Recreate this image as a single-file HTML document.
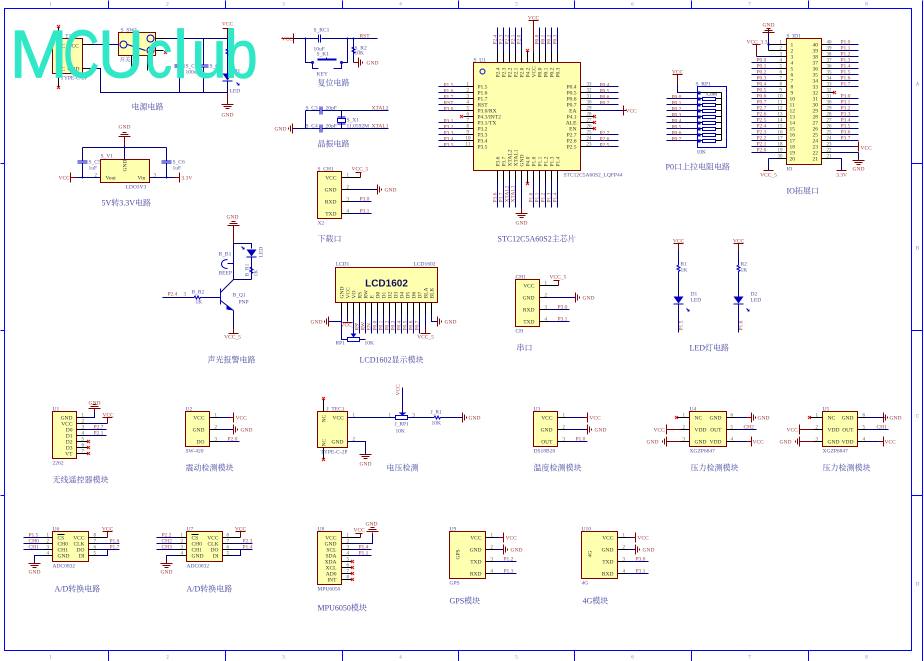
<!DOCTYPE html>
<html><head><meta charset="utf-8"><title>Schematic</title>
<style>
html,body{margin:0;padding:0;background:#fff;width:924px;height:661px;overflow:hidden}
svg{display:block}
text{font-family:"Liberation Serif","Noto Serif CJK SC",serif;font-size:5.5px}
.f{fill:none;stroke:#0000ff;stroke-width:1}
.w{fill:none;stroke:#000080;stroke-width:1}
.p{fill:none;stroke:#000;stroke-width:1}
.d{fill:none;stroke:#800000;stroke-width:1}
.x{fill:none;stroke:#e01010;stroke-width:1}
.bd{fill:#ffffb0;stroke:#800000;stroke-width:1}
.bl{fill:none;stroke:#0000c0;stroke-width:1}
.fb{fill:#0000c0;stroke:none}
.r text,text.r{fill:#a04040}
.b text,text.b{fill:#5050a0}
.k text,text.k{fill:#333}
.n text{fill:#555;font-size:5px}
.t text{fill:#4c4ca4;font-size:8px}
.z text{fill:#7a7ae0;font-size:5px}
.e{text-anchor:end}
.m{text-anchor:middle}
.wm text{font-family:"Liberation Sans",sans-serif;font-size:68px;fill:#30e8c8;stroke:#30e8c8;stroke-width:.8;stroke-linejoin:round}
</style></head><body>
<svg width="924" height="661" viewBox="0 0 924 661" xmlns="http://www.w3.org/2000/svg">
<defs>
<g id="gr" class="d"><path d="M0-5V5M2-3V3M4-1V1" fill="none" stroke="#800000"/></g>
<g id="gl"><path d="M0-5V5M-2-3V3M-4-1V1" fill="none" stroke="#800000"/></g>
<g id="gd"><path d="M-6 0H6M-4 2H4M-2 4H2" fill="none" stroke="#800000"/></g>
<g id="gu"><path d="M-6 0H6M-4-2H4M-2-4H2" fill="none" stroke="#800000"/></g>
<path id="xm" d="M-1.5-1.5L1.5 1.5M-1.5 1.5L1.5-1.5" fill="none" stroke="#e01010"/>
<path id="rh" d="M-5 0H-3.5L-2.5-1.5L-1 1.5L.5-1.5L2 1.5L3 0H5" fill="none" stroke="#0000c0"/>
<path id="rv" d="M0-5V-3.5L-1.5-2.5L1.5-1L-1.5.5L1.5 2L0 3V5" fill="none" stroke="#0000c0"/>
<g id="cv"><path d="M-1 -4V4M1 -4V4" fill="none" stroke="#0000c0"/></g>
<g id="ch"><path d="M-5-1H5M-5 1H5" fill="none" stroke="#0000c0"/></g>
<g id="led"><path d="M-5 -4H5L0 3Z" fill="#0000c0"/><path d="M-5 3.5H5" stroke="#0000c0"/></g>
<path id="ar" d="M0 0L2.5 2.5M1 2.5H2.5V1" fill="none" stroke="#0000c0"/>
</defs>

<g transform="translate(.5 .5)">
<!-- frame -->
<g class="f"><path d="M4 8H911V650H4ZM922 0V661"/><path d="M108 0V8M225 0V8M342 0V8M458 0V8M574 0V8M691 0V8M808 0V8M108 650V661M225 650V661M342 650V661M458 650V661M574 650V661M691 650V661M808 650V661M0 163H4M0 330H4M0 495H4M911 163H922M911 330H922M911 495H922"/></g>
<g class="z">
<text x="50" y="5" class="m">1</text><text x="167" y="5" class="m">2</text><text x="283" y="5" class="m">3</text><text x="400" y="5" class="m">4</text><text x="516" y="5" class="m">5</text><text x="632" y="5" class="m">6</text><text x="749" y="5" class="m">7</text><text x="866" y="5" class="m">8</text>
<text x="50" y="658" class="m">1</text><text x="167" y="658" class="m">2</text><text x="283" y="658" class="m">3</text><text x="400" y="658" class="m">4</text><text x="516" y="658" class="m">5</text><text x="632" y="658" class="m">6</text><text x="749" y="658" class="m">7</text><text x="866" y="658" class="m">8</text>
<text x="917" y="85" class="m">A</text><text x="917" y="249" class="m">B</text><text x="917" y="417" class="m">C</text><text x="917" y="585" class="m">D</text>
</g>

<!-- power -->
<rect class="bd" x="52" y="38" width="30" height="35"/><rect class="bd" x="118" y="32" width="37" height="23"/>
<path class="p" d="M58 38V27M58 73V87M82 44H92M82 68H92"/>
<use href="#xm" x="58" y="26"/><use href="#xm" x="58" y="87"/>
<path class="w" d="M92 44H118M92 68H100V92H227M155 38H227M179 38V64M179 67V92M203 38V64M203 67V92M227 38V75M227 81V92"/>
<path class="d" d="M227 28V38M227 92V104M222 28H232"/>
<use href="#ch" x="179" y="65.5"/><use href="#ch" x="203" y="65.5"/><use href="#rv" x="227" y="52"/><use href="#led" x="227" y="77"/><use href="#ar" x="236" y="82"/>
<use href="#gd" x="227" y="104"/>
<g class="bl"><circle cx="123" cy="44" r="3.5"/><circle cx="150" cy="38" r="3.5"/><circle cx="150" cy="50" r="3.5"/><path d="M127 44L145 50"/></g>
<path class="p" d="M155 38H165M155 50H163M131 55V70M147 55V70"/>
<use href="#xm" x="165" y="52"/>
<g class="b"><text x="59" y="37">S_T1</text><text x="120" y="31">S_SW1</text><text x="60" y="79">TYPE-C-2P</text><text x="119" y="61">开关</text><text x="185" y="67">S_C1</text><text x="185" y="73">100uF</text><text x="209" y="67">S_C2</text><text x="233" y="72">D1</text><text x="229" y="92">LED</text></g>
<g class="k"><text x="57" y="47">NC</text><text x="67" y="47">VCC</text><text x="57" y="70">NC</text><text x="67" y="70">GND</text></g>
<g class="r"><text x="227" y="25" class="m">VCC</text><text x="227" y="116" class="m">GND</text></g>

<!-- ldo -->
<rect class="bd" x="100" y="159" width="49" height="23"/>
<path class="w" d="M75 177H100M149 177H179M82 147H166M82 147V160M82 163V177M166 147V160M166 163V177M124 147V159"/>
<path class="d" d="M124 136V147M70 177H76M179 172V182M179 177H174M70 172V182"/>
<use href="#gu" x="124" y="136"/><use href="#ch" x="82" y="161.5"/><use href="#ch" x="166" y="161.5"/>
<g class="fb"><circle cx="82" cy="177" r="1"/><circle cx="166" cy="177" r="1"/><circle cx="124" cy="147" r="1"/></g>
<g class="k"><text x="105" y="179">Vout</text><text x="137" y="179">Vin</text><text transform="translate(126 171) rotate(-90)" class="k">GND</text></g>
<g class="b"><text x="100" y="157">S_V1</text><text x="125" y="188">LDO3V3</text><text x="88" y="163">S_C5</text><text x="88" y="169">1uF</text><text x="172" y="163">S_C6</text><text x="172" y="169">1uF</text></g>
<g class="r"><text x="58" y="179">VCC</text><text x="181" y="179">3.3V</text><text x="124" y="128" class="m">GND</text></g>
<g class="n"><text x="94" y="176">2</text><text x="153" y="176">3</text></g>

<!-- reset -->
<path class="w" d="M293 38H318M321 38H377M305 38V62H312M347 38V62H341M353 38V62"/>
<path class="d" d="M293 33V43M281 38H293M353 62H358"/>
<use href="#gr" x="358" y="62"/><use href="#cv" x="319" y="38"/><use href="#rv" x="353" y="50"/>
<g class="bl"><path d="M317 59H336" stroke-width="2"/><path d="M326 59V57M312 62V68H318M341 62V68H333"/><circle cx="312" cy="62" r="1"/><circle cx="341" cy="62" r="1"/></g>
<g class="fb"><circle cx="305" cy="38" r="1"/><circle cx="347" cy="38" r="1"/><circle cx="353" cy="38" r="1"/></g>
<g class="b"><text x="313" y="31">S_RC1</text><text x="313" y="50">10uF</text><text x="316" y="55">S_K1</text><text x="316" y="75">KEY</text><text x="354" y="49">S_R2</text><text x="354" y="54">10K</text></g>
<g class="r"><text x="281" y="40">VCC</text><text x="359" y="37">RST</text><text x="366" y="64">GND</text></g>

<!-- crystal -->
<path class="w" d="M305 110H319M322 110H388M292 128H319M322 128H388M305 110V128M341 110V118M341 122V128"/>
<use href="#gl" x="292" y="128"/><use href="#cv" x="320.5" y="110"/><use href="#cv" x="320.5" y="128"/>
<rect class="bl" x="337" y="118" width="8" height="4"/><path class="bl" d="M337 116.5H345M337 123.5H345"/>
<g class="b"><text x="305" y="109">S_C3</text><text x="325" y="109">20pF</text><text x="305" y="127">S_C4</text><text x="325" y="127">20pF</text><text x="346" y="121">S_X1</text><text x="346" y="127">11.0592M</text></g>
<g class="r"><text x="274" y="130">GND</text><text x="371" y="109">XTAL2</text><text x="371" y="127">XTAL1</text></g>

<!-- X2 download -->
<rect class="bd" x="317" y="171" width="24" height="47"/>
<path class="w" d="M350 189H377M350 201H371M350 213H371"/>
<path class="p" d="M341 177H360M341 189H350M341 201H350M341 213H350"/>
<path class="d" d="M355 172H361M360 172V177"/>
<use href="#gr" x="377" y="189"/>
<g class="k"><text x="336" y="179" class="e">VCC</text><text x="336" y="191" class="e">GND</text><text x="336" y="203" class="e">RXD</text><text x="336" y="215" class="e">TXD</text></g>
<g class="n"><text x="346" y="176">1</text><text x="346" y="188">2</text><text x="346" y="200">3</text><text x="346" y="212">4</text></g>
<g class="b"><text x="317" y="170">S_CH1</text><text x="317" y="224">X2</text></g>
<g class="r"><text x="351" y="170">VCC_5</text><text x="384" y="191">GND</text><text x="359" y="200">P3.0</text><text x="359" y="212">P3.1</text></g>

<!-- MCU -->
<rect class="bd" x="473" y="62" width="107" height="108"/>
<circle cx="482" cy="71" r="2.5" fill="none" stroke="#0000e0"/>
<path class="w" d="M438 86H463M438 92H463M438 98H463M438 104H463M438 110H463M438 122H463M438 128H463M438 134H463M438 140H463M438 146H463M590 86H618M590 92H618M590 98H618M590 104H618M590 110H623M590 134H618M590 140H618M590 146H618M497 27V52M503 27V52M509 27V52M515 27V52M521 27V52M539 27V52M545 27V52M551 27V52M557 27V52M497 180V207M503 180V207M509 180V207M515 180V207M533 180V207M539 180V207M545 180V207M551 180V207M557 180V207M521 180V207"/>
<path class="p" d="M463 86H473M463 92H473M463 98H473M463 104H473M463 110H473M463 116H473M463 122H473M463 128H473M463 134H473M463 140H473M463 146H473M580 86H590M580 92H590M580 98H590M580 104H590M580 110H590M580 116H593M580 122H593M580 128H593M580 134H590M580 140H590M580 146H590M497 52V62M503 52V62M509 52V62M515 52V62M521 52V62M527 50V62M533 52V62M539 52V62M545 52V62M551 52V62M557 52V62M497 170V180M503 170V180M509 170V180M515 170V180M521 170V180M527 170V183M533 170V180M539 170V180M545 170V180M551 170V180M557 170V180"/>
<path class="d" d="M533 20V52M528 20H538M623 105V115M623 110H626M521 207V213"/>
<use href="#gd" x="521" y="213"/>
<use href="#xm" x="461" y="116"/><use href="#xm" x="594" y="116"/><use href="#xm" x="594" y="122"/><use href="#xm" x="594" y="128"/><use href="#xm" x="527" y="50"/><use href="#xm" x="527" y="183"/>
<g class="k"><text x="477" y="88">P1.5</text><text x="477" y="94">P1.6</text><text x="477" y="100">P1.7</text><text x="477" y="106">RST</text><text x="477" y="112">P3.0/RX</text><text x="477" y="118">P4.3/INT2</text><text x="477" y="124">P3.1/TX</text><text x="477" y="130">P3.2</text><text x="477" y="136">P3.3</text><text x="477" y="142">P3.4</text><text x="477" y="148">P3.5</text>
<text x="576" y="88" class="e">P0.4</text><text x="576" y="94" class="e">P0.5</text><text x="576" y="100" class="e">P0.6</text><text x="576" y="106" class="e">P0.7</text><text x="576" y="112" class="e">EA</text><text x="576" y="118" class="e">P4.1</text><text x="576" y="124" class="e">ALE</text><text x="576" y="130" class="e">EN</text><text x="576" y="136" class="e">P2.7</text><text x="576" y="142" class="e">P2.6</text><text x="576" y="148" class="e">P2.5</text>
<text transform="translate(499 77) rotate(-90)">P2.4</text><text transform="translate(505 77) rotate(-90)">P2.3</text><text transform="translate(511 77) rotate(-90)">P2.2</text><text transform="translate(517 77) rotate(-90)">P2.1</text><text transform="translate(523 77) rotate(-90)">P2.0</text><text transform="translate(529 77) rotate(-90)">P4.2</text><text transform="translate(535 77) rotate(-90)">VCC</text><text transform="translate(541 77) rotate(-90)">P0.0</text><text transform="translate(547 77) rotate(-90)">P0.1</text><text transform="translate(553 77) rotate(-90)">P0.2</text><text transform="translate(559 77) rotate(-90)">P0.3</text>
<text transform="translate(499 166) rotate(-90)">P3.6</text><text transform="translate(505 166) rotate(-90)">P3.7</text><text transform="translate(511 166) rotate(-90)">XTAL2</text><text transform="translate(517 166) rotate(-90)">XTAL1</text><text transform="translate(523 166) rotate(-90)">GND</text><text transform="translate(529 166) rotate(-90)">P4.0</text><text transform="translate(535 166) rotate(-90)">P1.0</text><text transform="translate(541 166) rotate(-90)">P1.1</text><text transform="translate(547 166) rotate(-90)">P1.2</text><text transform="translate(553 166) rotate(-90)">P1.3</text><text transform="translate(559 166) rotate(-90)">P1.4</text></g>
<g class="r"><text x="443" y="86">P1.5</text><text x="443" y="92">P1.6</text><text x="443" y="98">P1.7</text><text x="443" y="104">RST</text><text x="443" y="110">P3.0</text><text x="443" y="122">P3.1</text><text x="443" y="128">P3.2</text><text x="443" y="134">P3.3</text><text x="443" y="140">P3.4</text><text x="443" y="146">P3.5</text>
<text x="599" y="86">P0.4</text><text x="599" y="92">P0.5</text><text x="599" y="98">P0.6</text><text x="599" y="104">P0.7</text><text x="599" y="134">P2.7</text><text x="599" y="140">P2.6</text><text x="599" y="146">P2.5</text><text x="625" y="112">VCC</text><text x="533" y="19" class="m">VCC</text><text x="521" y="224" class="m">GND</text>
<text transform="translate(496 44) rotate(-90)">P2.4</text><text transform="translate(502 44) rotate(-90)">P2.3</text><text transform="translate(508 44) rotate(-90)">P2.2</text><text transform="translate(514 44) rotate(-90)">P2.1</text><text transform="translate(520 44) rotate(-90)">P2.0</text><text transform="translate(538 44) rotate(-90)">P0.0</text><text transform="translate(544 44) rotate(-90)">P0.1</text><text transform="translate(550 44) rotate(-90)">P0.2</text><text transform="translate(556 44) rotate(-90)">P0.3</text>
<text transform="translate(496 202) rotate(-90)">P3.6</text><text transform="translate(502 202) rotate(-90)">P3.7</text><text transform="translate(508 202) rotate(-90)">XTAL2</text><text transform="translate(514 202) rotate(-90)">XTAL1</text><text transform="translate(532 202) rotate(-90)">P1.0</text><text transform="translate(538 202) rotate(-90)">P1.1</text><text transform="translate(544 202) rotate(-90)">P1.2</text><text transform="translate(550 202) rotate(-90)">P1.3</text><text transform="translate(556 202) rotate(-90)">P1.4</text></g>
<g class="n"><text x="466" y="85">1</text><text x="466" y="91">2</text><text x="466" y="97">3</text><text x="466" y="103">4</text><text x="466" y="109">5</text><text x="466" y="115">6</text><text x="466" y="121">7</text><text x="466" y="127">8</text><text x="466" y="133">9</text><text x="465" y="139">10</text><text x="465" y="145">11</text>
<text x="586" y="85">33</text><text x="586" y="91">32</text><text x="586" y="97">31</text><text x="586" y="103">30</text><text x="586" y="109">29</text><text x="586" y="115">28</text><text x="586" y="121">27</text><text x="586" y="127">26</text><text x="586" y="133">25</text><text x="586" y="139">24</text><text x="586" y="145">23</text></g>
<g class="b"><text x="473" y="61">S_U1</text><text x="563" y="176">STC12C5A60S2_LQFP44</text></g>

<!-- P0 pull-up -->
<rect x="697" y="86" width="29" height="61" class="bl" stroke="#0000e0"/>
<path class="d" d="M672 74H682M677 74V83"/>
<path class="w" d="M677 83V92H697M666 98H697M666 104H697M666 110H697M666 116H697M666 122H697M666 128H697M666 134H697M666 140H697"/>
<path class="p" d="M697 92H721M715 98H721M715 104H721M715 110H721M715 116H721M715 122H721M715 128H721M715 134H721M715 140H721M721 92V140M697 98H702M697 104H702M697 110H702M697 116H702M697 122H702M697 128H702M697 134H702M697 140H702"/>
<g class="bl"><rect x="702" y="97" width="13" height="3"/><rect x="702" y="103" width="13" height="3"/><rect x="702" y="109" width="13" height="3"/><rect x="702" y="115" width="13" height="3"/><rect x="702" y="121" width="13" height="3"/><rect x="702" y="127" width="13" height="3"/><rect x="702" y="133" width="13" height="3"/><rect x="702" y="139" width="13" height="3"/></g>
<g class="fb"><rect x="697" y="91" width="3" height="3"/><rect x="697" y="97" width="3" height="3"/><rect x="697" y="103" width="3" height="3"/><rect x="697" y="109" width="3" height="3"/><rect x="697" y="115" width="3" height="3"/><rect x="697" y="121" width="3" height="3"/><rect x="697" y="127" width="3" height="3"/><rect x="697" y="133" width="3" height="3"/><rect x="697" y="139" width="3" height="3"/></g>
<g class="r"><text x="677" y="73" class="m">VCC</text><text x="671" y="98">P0.0</text><text x="671" y="104">P0.1</text><text x="671" y="110">P0.2</text><text x="671" y="116">P0.3</text><text x="671" y="122">P0.4</text><text x="671" y="128">P0.5</text><text x="671" y="134">P0.6</text><text x="671" y="140">P0.7</text></g>
<g class="b"><text x="695" y="85">S_RP1</text><text x="696" y="153">10K</text></g><text x="706" y="95" class="k">Com</text>

<!-- IO -->
<rect class="bd" x="786" y="38" width="35" height="126"/>
<path class="w" d="M756 56H775M751 62H775M751 68H775M751 74H775M751 80H775M751 86H775M751 92H775M751 98H775M751 104H775M751 110H775M751 116H775M751 122H775M751 128H775M751 134H775M751 140H775M751 146H775M751 152H775M768 32V50M768 158V170M768 158H775M831 44H858M831 50H858M831 56H858M831 62H858M831 68H858M831 74H858M831 80H858M831 86H858M831 98H858M831 104H858M831 110H858M831 116H858M831 122H858M831 128H858M831 134H858M831 140H858M831 146H853M831 152H858M858 152V158M831 158H841V170"/>
<path class="p" d="M768 44H786M768 50H786M775 56H786M775 62H786M775 68H786M775 74H786M775 80H786M775 86H786M775 92H786M775 98H786M775 104H786M775 110H786M775 116H786M775 122H786M775 128H786M775 134H786M775 140H786M775 146H786M775 152H786M775 158H786M821 44H831M821 50H831M821 56H831M821 62H831M821 68H831M821 74H831M821 80H831M821 86H831M821 92H833M821 98H831M821 104H831M821 110H831M821 116H831M821 122H831M821 128H831M821 134H831M821 140H831M821 146H831M821 152H831M821 158H831"/>
<path class="d" d="M756 44V56M752 44H760M768 32V28M853 146H858M858 141V151M858 158V160M763 170H773M836 170H846"/>
<use href="#gu" x="768" y="32"/><use href="#gd" x="858" y="160"/><use href="#xm" x="834" y="92"/>
<g class="fb"><circle cx="768" cy="44" r="1.2"/></g>
<g class="k"><text x="790" y="46">1</text><text x="790" y="52">2</text><text x="790" y="58">3</text><text x="790" y="64">4</text><text x="790" y="70">5</text><text x="790" y="76">6</text><text x="790" y="82">7</text><text x="790" y="88">8</text><text x="790" y="94">9</text><text x="789" y="100">10</text><text x="789" y="106">11</text><text x="789" y="112">12</text><text x="789" y="118">13</text><text x="789" y="124">14</text><text x="789" y="130">15</text><text x="789" y="136">16</text><text x="789" y="142">17</text><text x="789" y="148">18</text><text x="789" y="154">19</text><text x="789" y="160">20</text>
<text x="812" y="46">40</text><text x="812" y="52">39</text><text x="812" y="58">38</text><text x="812" y="64">37</text><text x="812" y="70">36</text><text x="812" y="76">35</text><text x="812" y="82">34</text><text x="812" y="88">33</text><text x="812" y="94">32</text><text x="812" y="100">31</text><text x="812" y="106">30</text><text x="812" y="112">29</text><text x="812" y="118">28</text><text x="812" y="124">27</text><text x="812" y="130">26</text><text x="812" y="136">25</text><text x="812" y="142">24</text><text x="812" y="148">23</text><text x="812" y="154">22</text><text x="812" y="160">21</text></g>
<g class="n"><text x="779" y="43">1</text><text x="779" y="49">2</text><text x="779" y="55">3</text><text x="779" y="61">4</text><text x="779" y="67">5</text><text x="779" y="73">6</text><text x="779" y="79">7</text><text x="779" y="85">8</text><text x="779" y="91">9</text><text x="777" y="97">10</text><text x="777" y="103">11</text><text x="777" y="109">12</text><text x="777" y="115">13</text><text x="777" y="121">14</text><text x="777" y="127">15</text><text x="777" y="133">16</text><text x="777" y="139">17</text><text x="777" y="145">18</text><text x="777" y="151">19</text><text x="777" y="157">30</text>
<text x="826" y="43">40</text><text x="826" y="49">39</text><text x="826" y="55">38</text><text x="826" y="61">37</text><text x="826" y="67">36</text><text x="826" y="73">35</text><text x="826" y="79">34</text><text x="826" y="85">33</text><text x="826" y="91">32</text><text x="826" y="97">31</text><text x="826" y="103">30</text><text x="826" y="109">29</text><text x="826" y="115">28</text><text x="826" y="121">27</text><text x="826" y="127">26</text><text x="826" y="133">25</text><text x="826" y="139">24</text><text x="826" y="145">23</text><text x="826" y="151">22</text><text x="826" y="157">21</text></g>
<g class="r"><text x="746" y="43">VCC_3.3</text><text x="768" y="26" class="m">GND</text><text x="768" y="176" class="m">VCC_5</text><text x="841" y="176" class="m">3.3V</text><text x="858" y="170" class="m">GND</text><text x="860" y="149">VCC</text>
<text x="756" y="61">P0.0</text><text x="756" y="67">P0.1</text><text x="756" y="73">P0.2</text><text x="756" y="79">P0.3</text><text x="756" y="85">P0.4</text><text x="756" y="91">P0.5</text><text x="756" y="97">P0.6</text><text x="756" y="103">P0.7</text><text x="756" y="109">P2.7</text><text x="756" y="115">P2.6</text><text x="756" y="121">P2.5</text><text x="756" y="127">P2.4</text><text x="756" y="133">P2.3</text><text x="756" y="139">P2.2</text><text x="756" y="145">P2.1</text><text x="756" y="151">P2.0</text>
<text x="840" y="43">P1.0</text><text x="840" y="49">P1.1</text><text x="840" y="55">P1.2</text><text x="840" y="61">P1.3</text><text x="840" y="67">P1.4</text><text x="840" y="73">P1.5</text><text x="840" y="79">P1.6</text><text x="840" y="85">P1.7</text><text x="840" y="97">P3.0</text><text x="840" y="103">P3.1</text><text x="840" y="109">P3.2</text><text x="840" y="115">P3.3</text><text x="840" y="121">P3.4</text><text x="840" y="127">P3.5</text><text x="840" y="133">P3.6</text><text x="840" y="139">P3.7</text></g>
<g class="b"><text x="786" y="37">S_ID1</text><text x="786" y="170">IO</text></g>

<!-- buzzer -->
<path class="w" d="M233 243V279M233 243H251V248M251 257V279M233 279H251M233 279L220 292M220 300L233 310M162 297H192M202 297H220M227 263H233M233 310V327"/>
<path class="bl" d="M220 288V304" stroke-width="2"/><path class="bl" d="M220 288V304"/><use href="#rh" x="197" y="297"/>
<path d="M226 304L233 310L226 309Z" fill="#0000c0"/><use href="#led" x="251" y="253"/><use href="#rv" x="251" y="270"/><use href="#ar" x="241" y="246"/>
<path class="bl" d="M227 259C219 259 219 268 227 268"/>
<path class="d" d="M233 225V243M233 327V333M228 333H238"/><use href="#gu" x="233" y="225"/>
<g class="b"><text x="218" y="255">B_B1</text><text x="218" y="274">BEEP</text><text x="191" y="293">B_R2</text><text x="195" y="303">1K</text><text x="232" y="296">B_Q1</text><text x="238" y="303">PNP</text><text transform="translate(262 257) rotate(-90)">LED</text><text transform="translate(248 276) rotate(-90)">B_R1</text><text transform="translate(257 276) rotate(-90)">1K</text></g>
<g class="r"><text x="232" y="218" class="m">GND</text><text x="232" y="338" class="m">VCC_5</text><text x="167" y="295">P2.4</text></g><g class="n"><text x="183" y="295">3</text></g>

<!-- LCD -->
<rect class="bd" x="335" y="267" width="102" height="35"/>
<text x="386" y="286" class="m" style="font:bold 10px 'Liberation Sans',sans-serif;fill:#101060">LCD1602</text>
<path class="p" d="M341 302V314M347 302V314M353 302V314M359 302V314M365 302V314M371 302V314M377 302V314M383 302V314M389 302V314M395 302V314M401 302V314M407 302V314M413 302V314M419 302V314M425 302V314M431 302V314"/>
<path class="w" d="M341 314V339H347M347 314V321M353 314V335M359 314V333M365 314V333M371 314V333M377 314V333M383 314V333M389 314V333M395 314V333M401 314V333M407 314V333M413 314V333M419 314V333M425 314V328M431 314V321H437M328 321H341M359 339H365"/>
<path class="d" d="M342 322H352M420 333H430M425 328V333"/>
<use href="#gl" x="328" y="321"/><use href="#gr" x="437" y="321"/>
<rect x="347" y="337" width="12" height="4" class="bl"/><path d="M350 333H356L353 337Z" fill="#0000c0"/>
<g class="k" style="font-size:5px"><text transform="translate(343 298) rotate(-90)">GND</text><text transform="translate(349 298) rotate(-90)">VCC</text><text transform="translate(355 298) rotate(-90)">VO</text><text transform="translate(361 298) rotate(-90)">RS</text><text transform="translate(367 298) rotate(-90)">RW</text><text transform="translate(373 298) rotate(-90)">E</text><text transform="translate(379 298) rotate(-90)">D0</text><text transform="translate(385 298) rotate(-90)">D1</text><text transform="translate(391 298) rotate(-90)">D2</text><text transform="translate(397 298) rotate(-90)">D3</text><text transform="translate(403 298) rotate(-90)">D4</text><text transform="translate(409 298) rotate(-90)">D5</text><text transform="translate(415 298) rotate(-90)">D6</text><text transform="translate(421 298) rotate(-90)">D7</text><text transform="translate(427 298) rotate(-90)">BLA</text><text transform="translate(433 298) rotate(-90)">BLK</text></g>
<g class="r"><text x="310" y="323">GND</text><text x="450" y="323" class="m">GND</text><text x="340" y="326">VCC_5</text><text x="425" y="338" class="m">VCC_5</text><text transform="translate(358 330) rotate(-90)">RS</text><text transform="translate(364 330) rotate(-90)">RW</text><text transform="translate(370 330) rotate(-90)">EN</text><text transform="translate(376 330) rotate(-90)">P0.0</text><text transform="translate(382 330) rotate(-90)">P0.1</text><text transform="translate(388 330) rotate(-90)">P0.2</text><text transform="translate(394 330) rotate(-90)">P0.3</text><text transform="translate(400 330) rotate(-90)">P0.4</text><text transform="translate(406 330) rotate(-90)">P0.5</text><text transform="translate(412 330) rotate(-90)">P0.6</text><text transform="translate(418 330) rotate(-90)">P0.7</text></g>
<g class="b"><text x="335" y="265">LCD1</text><text x="413" y="265">LCD1602</text><text x="335" y="344">RP1</text><text x="364" y="344">10K</text></g>

<!-- serial -->
<rect class="bd" x="515" y="279" width="24" height="47"/>
<path class="w" d="M548 297H575M548 309H569M548 321H569"/>
<path class="p" d="M539 285H558M539 297H548M539 309H548M539 321H548"/>
<path class="d" d="M553 280H559M558 280V285"/>
<use href="#gr" x="575" y="297"/>
<g class="k"><text x="534" y="287" class="e">VCC</text><text x="534" y="299" class="e">GND</text><text x="534" y="311" class="e">RXD</text><text x="534" y="323" class="e">TXD</text></g>
<g class="n"><text x="544" y="284">1</text><text x="544" y="296">2</text><text x="544" y="308">3</text><text x="544" y="320">4</text></g>
<g class="b"><text x="515" y="278">CH1</text><text x="515" y="332">CH</text></g>
<g class="r"><text x="549" y="278">VCC_5</text><text x="582" y="299">GND</text><text x="557" y="308">P3.0</text><text x="557" y="320">P3.1</text></g>

<!-- LEDs -->
<path class="w" d="M678 250V263M678 273V296M678 303V332M738 250V263M738 273V296M738 303V332"/>
<path class="d" d="M673 243H683M678 243V250M733 243H743M738 243V250"/>
<use href="#rv" x="678" y="268"/><use href="#rv" x="738" y="268"/><use href="#led" x="678" y="300"/><use href="#led" x="738" y="300"/><use href="#ar" x="686" y="308"/><use href="#ar" x="746" y="308"/>
<g class="r"><text x="678" y="242" class="m">VCC</text><text x="738" y="242" class="m">VCC</text><text transform="translate(682 330) rotate(-90)">P1.5</text><text transform="translate(742 330) rotate(-90)">P1.6</text></g>
<g class="b"><text x="680" y="265">R1</text><text x="680" y="271">1K</text><text x="690" y="295">D1</text><text x="690" y="301">LED</text><text x="740" y="265">R2</text><text x="740" y="271">1K</text><text x="750" y="295">D2</text><text x="750" y="301">LED</text></g>

<!-- U1 wireless -->
<rect class="bd" x="52" y="411" width="24" height="47"/>
<path class="w" d="M84 417H94V411M84 423H107M84 429H106M84 435H106"/>
<path class="p" d="M76 417H84M76 423H84M76 429H84M76 435H84M76 441H87M76 447H87M76 453H87"/>
<path class="d" d="M94 411V408M102 417H112M107 417V423"/><use href="#gu" x="94" y="408"/>
<use href="#xm" x="88" y="441"/><use href="#xm" x="88" y="447"/><use href="#xm" x="88" y="453"/>
<g class="k"><text x="72" y="419" class="e">GND</text><text x="72" y="425" class="e">VCC</text><text x="72" y="431" class="e">D0</text><text x="72" y="437" class="e">D1</text><text x="72" y="443" class="e">D2</text><text x="72" y="449" class="e">D3</text><text x="72" y="455" class="e">VT</text></g>
<g class="n"><text x="81" y="416">1</text><text x="81" y="422">2</text><text x="81" y="428">3</text><text x="81" y="434">4</text><text x="81" y="440">5</text><text x="81" y="446">6</text><text x="81" y="452">7</text></g>
<g class="b"><text x="52" y="410">U1</text><text x="52" y="464">2262</text></g>
<g class="r"><text x="94" y="404" class="m">GND</text><text x="102" y="416">VCC</text><text x="93" y="428">P2.7</text><text x="93" y="434">P2.1</text></g>

<!-- U2 -->
<rect class="bd" x="185" y="411" width="24" height="35"/>
<path class="w" d="M218 417H230M218 429H233M218 441H239"/><path class="p" d="M209 417H218M209 429H218M209 441H218"/>
<path class="d" d="M229 417H233M233 412V422"/><use href="#gr" x="233" y="429"/>
<g class="k"><text x="204" y="419" class="e">VCC</text><text x="204" y="431" class="e">GND</text><text x="204" y="443" class="e">DO</text></g>
<g class="n"><text x="214" y="416">1</text><text x="214" y="428">2</text><text x="214" y="440">3</text></g>
<g class="b"><text x="185" y="410">U2</text><text x="185" y="452">SW-420</text></g>
<g class="r"><text x="235" y="419">VCC</text><text x="240" y="431">GND</text><text x="227" y="440">P2.0</text></g>

<!-- voltage -->
<rect class="bd" x="317" y="411" width="30" height="36"/>
<path class="p" d="M323 411V399M323 447V459"/><use href="#xm" x="323" y="398"/><use href="#xm" x="323" y="459"/>
<path class="w" d="M347 417H395M407 417H432M442 417H462M347 441H365V453M402 387V413"/>
<path class="d" d="M365 453V454"/><use href="#gd" x="365" y="454"/><use href="#gr" x="462" y="417"/>
<rect x="395" y="415" width="12" height="4" fill="none" stroke="#0000c0"/><path d="M398 412H406L402 415Z" fill="#0000c0"/><use href="#rh" x="437" y="417"/>
<g class="k"><text x="332" y="419">VCC</text><text x="331" y="443">GND</text><text transform="translate(325 422) rotate(-90)">NC</text><text transform="translate(325 446) rotate(-90)">NC</text></g>
<g class="b"><text x="326" y="410">J_TEC1</text><text x="394" y="425">J_RP1</text><text x="395" y="432">10K</text><text x="430" y="413">J_R1</text><text x="431" y="424">10K</text><text x="320" y="453">TYPE-C-2P</text></g>
<g class="n"><text x="352" y="416">1</text><text x="352" y="440">2</text><text x="388" y="416">1</text><text x="412" y="416">3</text></g>
<g class="r"><text x="468" y="419">GND</text><text x="365" y="465" class="m">GND</text><text transform="translate(399 395) rotate(-90)">VCC</text></g>

<!-- U3 -->
<rect class="bd" x="533" y="411" width="24" height="35"/>
<path class="w" d="M566 417H584M566 429H587M566 441H587"/><path class="p" d="M557 417H566M557 429H566M557 441H566"/>
<path class="d" d="M583 417H587M587 412V422"/><use href="#gr" x="587" y="429"/>
<g class="k"><text x="552" y="419" class="e">VCC</text><text x="552" y="431" class="e">GND</text><text x="552" y="443" class="e">OUT</text></g>
<g class="n"><text x="562" y="416">1</text><text x="562" y="428">2</text><text x="562" y="440">3</text></g>
<g class="b"><text x="533" y="410">U3</text><text x="533" y="452">DS18B20</text></g>
<g class="r"><text x="589" y="419">VCC</text><text x="594" y="431">GND</text><text x="575" y="440">P1.0</text></g>

<!-- U4 -->
<rect class="bd" x="689" y="411" width="37" height="35"/>
<path class="w" d="M735 417H748M735 429H756M735 441H748"/>
<path class="p" d="M676 417H689M680 429H689M680 441H689M726 417H735M726 429H735M726 441H735"/>
<path class="d" d="M666 424V434M666 429H680M666 436V446M666 441H680M746 417H751M746 441H751M751 436V446"/><use href="#gl" x="666" y="441"/><use href="#gr" x="751" y="417"/><use href="#xm" x="676" y="417"/>
<g class="k"><text x="694" y="419">NC</text><text x="694" y="431">VDD</text><text x="694" y="443">GND</text><text x="721" y="419" class="e">GND</text><text x="721" y="431" class="e">OUT</text><text x="721" y="443" class="e">VDD</text></g>
<g class="n"><text x="682" y="416">1</text><text x="682" y="428">2</text><text x="682" y="440">3</text><text x="730" y="416">6</text><text x="730" y="428">5</text><text x="730" y="440">4</text></g>
<g class="b"><text x="689" y="410">U4</text><text x="689" y="452">XGZP6847</text></g>
<g class="r"><text x="653" y="431">VCC</text><text x="646" y="443">GND</text><text x="757" y="419">GND</text><text x="743" y="428">CH2</text><text x="752" y="443">VCC</text></g>

<!-- U5 -->
<rect class="bd" x="822" y="411" width="35" height="35"/>
<path class="w" d="M866 417H884M866 429H888M866 441H880"/>
<path class="p" d="M809 417H822M813 429H822M813 441H822M857 417H866M857 429H866M857 441H866"/>
<path class="d" d="M799 424V434M799 429H813M799 436V446M799 441H813M878 441H883M883 436V446"/><use href="#gl" x="799" y="441"/><use href="#gr" x="883" y="417"/><use href="#xm" x="809" y="417"/>
<g class="k"><text x="827" y="419">NC</text><text x="827" y="431">VDD</text><text x="827" y="443">GND</text><text x="853" y="419" class="e">GND</text><text x="853" y="431" class="e">OUT</text><text x="853" y="443" class="e">VDD</text></g>
<g class="n"><text x="815" y="416">1</text><text x="815" y="428">2</text><text x="815" y="440">3</text><text x="862" y="416">6</text><text x="862" y="428">5</text><text x="862" y="440">4</text></g>
<g class="b"><text x="822" y="410">U5</text><text x="822" y="452">XGZP6847</text></g>
<g class="r"><text x="786" y="431">VCC</text><text x="779" y="443">GND</text><text x="889" y="419">GND</text><text x="876" y="428">CH1</text><text x="884" y="443">VCC</text></g>

<!-- U6 -->
<rect class="bd" x="52" y="531" width="36" height="30"/>
<path class="w" d="M23 537H43M23 543H43M23 549H43M43 555H34V563M97 543H119M97 549H119M107 549V555H97"/>
<path class="p" d="M43 537H52M43 543H52M43 549H52M43 555H52M88 537H107M88 543H97M88 549H97M88 555H97"/>
<path class="d" d="M102 531H112M107 531V537M34 561V563"/><use href="#gd" x="34" y="563"/>
<path d="M57 534H64" stroke="#000"/>
<g class="k"><text x="57" y="539">CS</text><text x="57" y="545">CH0</text><text x="57" y="551">CH1</text><text x="57" y="557">GND</text><text x="84" y="539" class="e">VCC</text><text x="84" y="545" class="e">CLK</text><text x="84" y="551" class="e">DO</text><text x="84" y="557" class="e">DI</text></g>
<g class="n"><text x="46" y="536">1</text><text x="46" y="542">2</text><text x="46" y="548">3</text><text x="46" y="554">4</text><text x="93" y="536">8</text><text x="93" y="542">7</text><text x="93" y="548">6</text><text x="93" y="554">5</text></g>
<g class="b"><text x="52" y="530">U6</text><text x="52" y="567">ADC0832</text></g>
<g class="r"><text x="28" y="536">P1.5</text><text x="28" y="542">CH0</text><text x="28" y="548">CH1</text><text x="107" y="530" class="m">VCC</text><text x="109" y="542">P1.6</text><text x="109" y="548">P1.7</text><text x="34" y="573" class="m">GND</text></g>

<!-- U7 -->
<rect class="bd" x="186" y="531" width="36" height="30"/>
<path class="w" d="M156 537H177M156 543H177M156 549H177M177 555H166V563M231 543H252M231 549H252M240 549V555H231"/>
<path class="p" d="M177 537H186M177 543H186M177 549H186M177 555H186M222 537H240M222 543H231M222 549H231M222 555H231"/>
<path class="d" d="M235 531H245M240 531V537M166 561V563"/><use href="#gd" x="166" y="563"/>
<path d="M191 534H198" stroke="#000"/>
<g class="k"><text x="191" y="539">CS</text><text x="191" y="545">CH0</text><text x="191" y="551">CH1</text><text x="191" y="557">GND</text><text x="218" y="539" class="e">VCC</text><text x="218" y="545" class="e">CLK</text><text x="218" y="551" class="e">DO</text><text x="218" y="557" class="e">DI</text></g>
<g class="n"><text x="180" y="536">1</text><text x="180" y="542">2</text><text x="180" y="548">3</text><text x="180" y="554">4</text><text x="226" y="536">8</text><text x="226" y="542">7</text><text x="226" y="548">6</text><text x="226" y="554">5</text></g>
<g class="b"><text x="186" y="530">U7</text><text x="186" y="567">ADC0832</text></g>
<g class="r"><text x="161" y="536">P2.2</text><text x="161" y="542">CH2</text><text x="161" y="548">CH3</text><text x="240" y="530" class="m">VCC</text><text x="242" y="542">P2.3</text><text x="242" y="548">P1.4</text><text x="166" y="573" class="m">GND</text></g>

<!-- U8 MPU -->
<rect class="bd" x="317" y="531" width="24" height="53"/>
<path class="w" d="M350 543H372V534M350 549H371M350 555H371"/>
<path class="p" d="M341 537H360M341 543H350M341 549H350M341 555H350M341 561H351M341 567H351M341 573H351M341 579H351"/>
<path class="d" d="M355 533H362M360 533V537M372 534V532"/><use href="#gu" x="372" y="531"/>
<use href="#xm" x="352" y="561"/><use href="#xm" x="352" y="567"/><use href="#xm" x="352" y="573"/><use href="#xm" x="352" y="579"/>
<g class="k"><text x="336" y="539" class="e">VCC</text><text x="336" y="545" class="e">GND</text><text x="336" y="551" class="e">SCL</text><text x="336" y="557" class="e">SDA</text><text x="336" y="563" class="e">XDA</text><text x="336" y="569" class="e">XCL</text><text x="336" y="575" class="e">AD0</text><text x="336" y="581" class="e">INT</text></g>
<g class="n"><text x="346" y="536">1</text><text x="346" y="542">2</text><text x="346" y="548">3</text><text x="346" y="554">4</text><text x="346" y="560">5</text><text x="346" y="566">6</text><text x="346" y="572">7</text><text x="346" y="578">8</text></g>
<g class="b"><text x="317" y="530">U8</text><text x="317" y="590">MPU6050</text></g>
<g class="r"><text x="353" y="531">VCC</text><text x="371" y="525" class="m">GND</text><text x="358" y="548">P1.4</text><text x="358" y="554">P1.1</text></g>

<!-- U9 GPS -->
<rect class="bd" x="449" y="531" width="36" height="47"/>
<path class="w" d="M494 537H500M494 549H503M494 561H516M494 573H516"/>
<path class="p" d="M485 537H494M485 549H494M485 561H494M485 573H494"/>
<path class="d" d="M498 537H503M503 532V542"/><use href="#gr" x="503" y="549"/>
<g class="k"><text x="481" y="539" class="e">VCC</text><text x="481" y="551" class="e">GND</text><text x="481" y="563" class="e">TXD</text><text x="481" y="575" class="e">RXD</text><text transform="translate(459 559) rotate(-90)">GPS</text></g>
<g class="n"><text x="490" y="536">1</text><text x="490" y="548">2</text><text x="490" y="560">3</text><text x="490" y="572">4</text></g>
<g class="b"><text x="449" y="530">U9</text><text x="449" y="584">GPS</text></g>
<g class="r"><text x="505" y="539">VCC</text><text x="510" y="551">GND</text><text x="503" y="560">P1.2</text><text x="503" y="572">P1.3</text></g>

<!-- U10 4G -->
<rect class="bd" x="581" y="531" width="36" height="47"/>
<path class="w" d="M626 537H632M626 549H635M626 561H648M626 573H648"/>
<path class="p" d="M617 537H626M617 549H626M617 561H626M617 573H626"/>
<path class="d" d="M630 537H635M635 532V542"/><use href="#gr" x="635" y="549"/>
<g class="k"><text x="613" y="539" class="e">VCC</text><text x="613" y="551" class="e">GND</text><text x="613" y="563" class="e">TXD</text><text x="613" y="575" class="e">RXD</text><text transform="translate(591 557) rotate(-90)">4G</text></g>
<g class="n"><text x="622" y="536">1</text><text x="622" y="548">2</text><text x="622" y="560">3</text><text x="622" y="572">4</text></g>
<g class="b"><text x="581" y="530">U10</text><text x="581" y="584">4G</text></g>
<g class="r"><text x="637" y="539">VCC</text><text x="642" y="551">GND</text><text x="635" y="560">P3.0</text><text x="635" y="572">P3.1</text></g>

<!-- titles -->
<g class="t">
<text x="131" y="109">电源电路</text><text x="101" y="205">5V转3.3V电路</text><text x="317" y="85">复位电路</text><text x="317" y="146">晶振电路</text><text x="317" y="241">下载口</text><text x="497" y="241">STC12C5A60S2主芯片</text><text x="665" y="169">P0口上拉电阻电路</text><text x="786" y="193">IO拓展口</text><text x="207" y="362">声光报警电路</text><text x="359" y="362">LCD1602显示模块</text><text x="516" y="350">串口</text><text x="689" y="350">LED灯电路</text><text x="52" y="482">无线遥控器模块</text><text x="185" y="470">震动检测模块</text><text x="386" y="470">电压检测</text><text x="533" y="470">温度检测模块</text><text x="690" y="470">压力检测模块</text><text x="822" y="470">压力检测模块</text><text x="54" y="591">A/D转换电路</text><text x="186" y="591">A/D转换电路</text><text x="317" y="610">MPU6050模块</text><text x="449" y="603">GPS模块</text><text x="582" y="603">4G模块</text>
</g>

<!-- watermark -->
<g class="wm">
<text transform="translate(9 77) scale(1.03 1)">M</text>
<text transform="translate(62.5 77) scale(.74 1)">C</text>
<text transform="translate(97.6 77) scale(.93 1)">U</text>
<text transform="translate(144.9 77) scale(.79 1)">c</text>
<text transform="translate(172.5 77)">l</text>
<text transform="translate(190.8 77) scale(.94 1)">u</text>
<text transform="translate(224 77) scale(.88 1)">b</text>
</g>
</g>
</svg>
</body></html>
